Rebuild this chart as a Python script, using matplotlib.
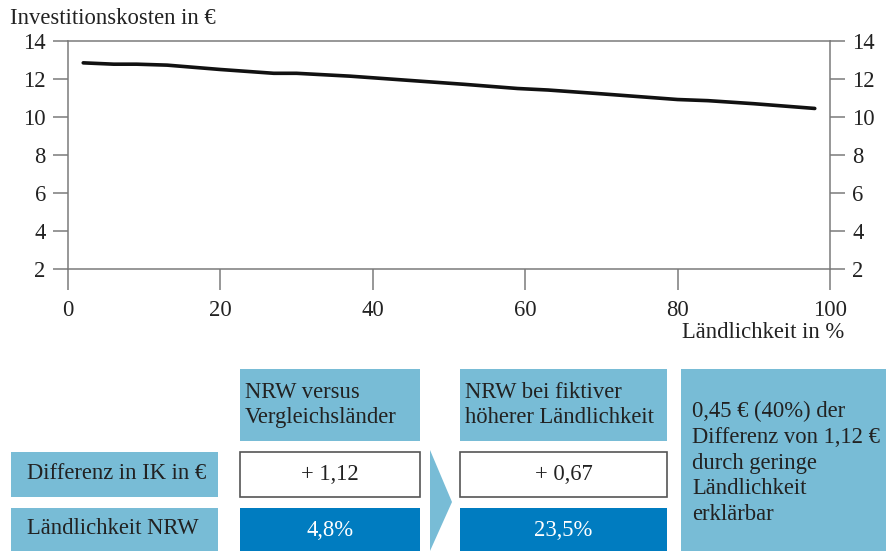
import matplotlib.pyplot as plt
from matplotlib.patches import Rectangle, Polygon

# line data: investment cost vs. rurality
rurality = [2, 6, 9, 13, 20, 27, 30, 37, 45, 52, 59, 63, 70, 80, 84, 90, 98]
cost = [12.85, 12.78, 12.78, 12.73, 12.5, 12.3, 12.3, 12.15, 11.92, 11.72,
        11.5, 11.42, 11.22, 10.92, 10.86, 10.7, 10.45]

y_ticks = [2, 4, 6, 8, 10, 12, 14]
x_ticks = [0, 20, 40, 60, 80, 100]

row_labels = ["Differenz in IK in €", "Ländlichkeit NRW"]
col_headers = ["NRW versus\nVergleichsländer", "NRW bei fiktiver\nhöherer Ländlichkeit"]
diff_values = ["+ 1,12", "+ 0,67"]
rural_values = ["4,8%", "23,5%"]
note = "0,45 € (40%) der\nDifferenz von 1,12 €\ndurch geringe\nLändlichkeit\nerklärbar"

LIGHT = "#78bcd6"
DARK = "#007cc0"
GRAY = "#7a7a7a"
TXT = "#222222"
FS = 16.3

plt.rcParams['font.family'] = ['Liberation Serif', 'DejaVu Serif']

W, H = 886, 551
fig = plt.figure(figsize=(W / 100, H / 100), dpi=100)

# chart area
ax = fig.add_axes([68 / W, 1 - 269 / H, (830 - 68) / W, (269 - 41) / H])
ax.plot(rurality, cost, color="#111111", lw=2.6, solid_capstyle="round")
ax.set_xlim(0, 100)
ax.set_ylim(2, 14)
ax.set_xticks(x_ticks)
ax.set_yticks(y_ticks)
for s in ax.spines.values():
    s.set_color(GRAY)
    s.set_linewidth(1.1)
ax.tick_params(axis="y", direction="out", length=11, width=1.1, color=GRAY,
               labelsize=FS, pad=5, right=True, labelright=True, labelcolor=TXT)
for t in ax.yaxis.get_major_ticks():
    t.set_pad(5)
    t.label2.set_x(1.0)
ax.tick_params(axis="y", which="major", pad=5)
ax.tick_params(axis="x", direction="out", length=15, width=1.1, color=GRAY,
               labelsize=FS, pad=7, labelcolor=TXT)
fig.text(10 / W, 1 - 19 / H, "Investitionskosten in €", fontsize=FS,
         color=TXT, va="center", ha="left")
fig.text(844 / W, 1 - 333 / H, "Ländlichkeit in %", fontsize=FS,
         color=TXT, va="center", ha="right")

# box diagram below, drawn in pixel coordinates
bx = fig.add_axes([0, 0, 1, 1], zorder=-1)
bx.set_xlim(0, W)
bx.set_ylim(H, 0)
bx.axis("off")

cols = [(240, 420), (460, 667)]
for (x0, x1), head, dv, rv in zip(cols, col_headers, diff_values, rural_values):
    bx.add_patch(Rectangle((x0, 369), x1 - x0, 72, color=LIGHT, lw=0))
    bx.text(x0 + 5, 405, head, fontsize=FS, color=TXT, va="center",
            ha="left", linespacing=1.3)
    bx.add_patch(Rectangle((x0, 452), x1 - x0, 45, facecolor="white",
                           edgecolor="#555555", lw=1.2))
    bx.text((x0 + x1) / 2, 474, dv, fontsize=FS, color=TXT, va="center", ha="center")
    bx.add_patch(Rectangle((x0, 508), x1 - x0, 43, color=DARK, lw=0))
    bx.text((x0 + x1) / 2, 530, rv, fontsize=FS, color="white", va="center", ha="center")

for (y0, y1), lab in zip([(452, 497), (508, 551)], row_labels):
    bx.add_patch(Rectangle((11, y0), 207, y1 - y0, color=LIGHT, lw=0))
    bx.text(27, (y0 + y1) / 2 - 1, lab, fontsize=FS, color=TXT, va="center", ha="left")

bx.add_patch(Polygon([(430, 450), (452, 502), (430, 551)], closed=True,
                     color=LIGHT, lw=0))
bx.add_patch(Rectangle((681, 369), W - 681, H - 369, color=LIGHT, lw=0))
bx.text(692, 463, note, fontsize=FS, color=TXT, va="center", ha="left",
        linespacing=1.3)

fig.savefig("out.png", dpi=100)
